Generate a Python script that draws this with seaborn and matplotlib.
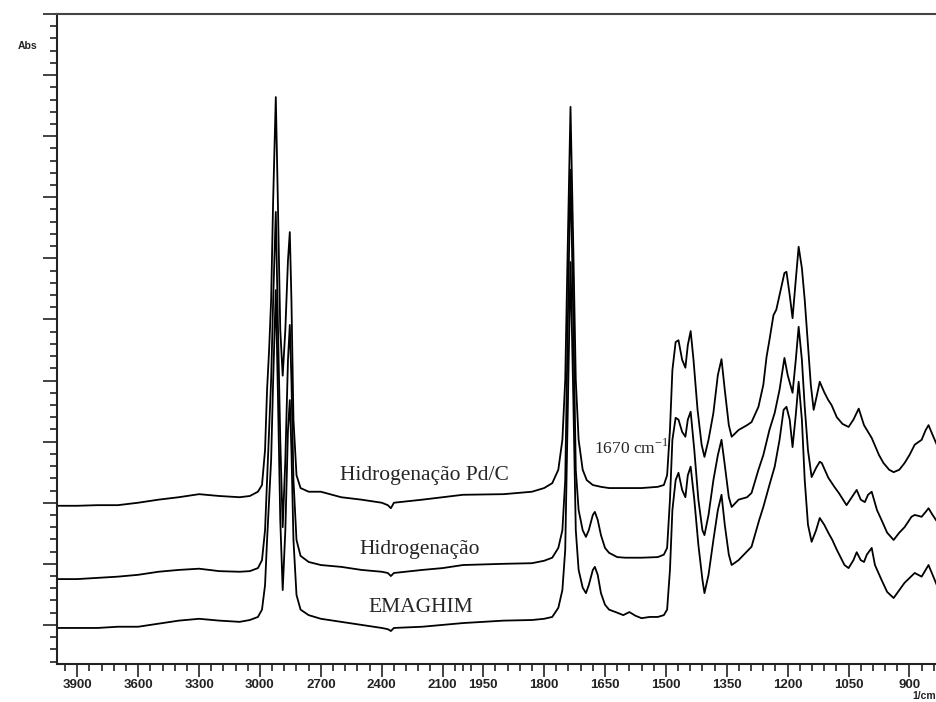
import numpy as np
import pandas as pd
import matplotlib
matplotlib.use("Agg")
import matplotlib.pyplot as plt
import seaborn as sns

sns.set_theme(style="white")
plt.rcParams['font.family'] = ['Liberation Sans', 'DejaVu Sans']
plt.rcParams['mathtext.fontset'] = 'custom'
plt.rcParams['mathtext.rm'] = 'Liberation Serif'

# ---------------- data (wavenumber in cm-1, absorbance in arbitrary units) ----------------
wn_pdc = [4000, 3900, 3800, 3700, 3600, 3500, 3400, 3300, 3200, 3100, 3050, 3010, 2990, 2975, 2965,
          2955, 2945, 2935, 2922, 2912, 2900, 2888, 2875, 2862, 2853, 2845, 2835, 2820, 2800, 2760,
          2700, 2600, 2500, 2400, 2370, 2355, 2340, 2200, 2100, 2000, 1900, 1830, 1800, 1780, 1765,
          1755, 1748, 1742, 1735, 1728, 1722, 1715, 1705, 1695, 1680, 1660, 1640, 1600, 1560, 1520,
          1505, 1497, 1490, 1484, 1476, 1469, 1460, 1452, 1446, 1439, 1432, 1422, 1412, 1405, 1395,
          1383, 1372, 1363, 1355, 1345, 1338, 1321, 1300, 1289, 1272, 1260, 1252, 1245, 1235, 1228,
          1220, 1208, 1203, 1195, 1188, 1180, 1173, 1165, 1158, 1150, 1143, 1136, 1128, 1121, 1110,
          1100, 1092, 1079, 1065, 1050, 1038, 1025, 1012, 993, 975, 964, 950, 939, 925, 912,
          900, 887, 870, 860, 853, 843, 830]
ab_pdc = [1.95, 1.95, 1.96, 1.96, 2.00, 2.05, 2.09, 2.14, 2.11, 2.09, 2.11, 2.18, 2.29, 2.86, 3.85,
          4.50, 5.32, 6.96, 8.64, 6.96, 4.83, 4.08, 4.83, 5.97, 6.43, 5.32, 3.36, 2.45, 2.24, 2.18,
          2.18, 2.09, 2.05, 2.00, 1.96, 1.91, 2.00, 2.05, 2.09, 2.13, 2.14, 2.18, 2.24, 2.32, 2.54,
          3.03, 4.01, 6.14, 8.48, 6.14, 4.01, 3.03, 2.54, 2.37, 2.29, 2.26, 2.24, 2.24, 2.24, 2.26,
          2.29, 2.45, 3.19, 4.17, 4.63, 4.66, 4.34, 4.21, 4.58, 4.81, 4.34, 3.52, 2.95, 2.75, 3.03,
          3.47, 4.09, 4.35, 3.85, 3.27, 3.08, 3.19, 3.27, 3.32, 3.57, 3.93, 4.39, 4.66, 5.07, 5.16,
          5.40, 5.76, 5.78, 5.40, 5.02, 5.65, 6.19, 5.84, 5.32, 4.58, 3.93, 3.52, 3.76, 3.98, 3.81,
          3.68, 3.60, 3.40, 3.29, 3.24, 3.36, 3.54, 3.27, 3.06, 2.78, 2.65, 2.54, 2.50, 2.54, 2.65,
          2.78, 2.95, 3.03, 3.19, 3.27, 3.11, 2.91]

wn_hid = [4000, 3900, 3800, 3700, 3600, 3500, 3400, 3300, 3200, 3100, 3050, 3010, 2990, 2975, 2965,
          2955, 2945, 2935, 2922, 2912, 2900, 2888, 2875, 2862, 2853, 2845, 2835, 2820, 2800, 2760,
          2700, 2600, 2500, 2400, 2370, 2355, 2340, 2200, 2100, 2000, 1900, 1830, 1800, 1780, 1765,
          1755, 1748, 1742, 1735, 1728, 1722, 1715, 1705, 1697, 1690, 1680, 1675, 1668, 1660, 1650,
          1640, 1620, 1600, 1560, 1520, 1505, 1497, 1490, 1484, 1476, 1469, 1460, 1452, 1446, 1439,
          1430, 1420, 1410, 1405, 1395, 1383, 1372, 1363, 1355, 1345, 1338, 1321, 1300, 1289, 1272,
          1260, 1245, 1232, 1220, 1208, 1200, 1188, 1180, 1173, 1165, 1158, 1150, 1141, 1130, 1121,
          1116, 1100, 1085, 1074, 1055, 1042, 1030, 1020, 1010, 1002, 993, 980, 969, 955, 939,
          925, 912, 895, 887, 870, 860, 853, 843, 830]
ab_hid = [0.75, 0.75, 0.77, 0.79, 0.82, 0.87, 0.90, 0.92, 0.88, 0.87, 0.88, 0.93, 1.06, 1.55, 2.37,
          3.19, 4.01, 5.32, 6.76, 4.99, 3.03, 1.60, 2.70, 4.34, 4.91, 4.01, 2.37, 1.39, 1.13, 1.03,
          0.98, 0.95, 0.90, 0.87, 0.85, 0.80, 0.85, 0.90, 0.93, 0.98, 1.00, 1.01, 1.05, 1.10, 1.26,
          1.55, 2.37, 4.83, 7.45, 4.99, 2.54, 1.88, 1.55, 1.44, 1.55, 1.80, 1.85, 1.72, 1.47, 1.26,
          1.18, 1.11, 1.10, 1.10, 1.11, 1.15, 1.26, 2.05, 3.03, 3.39, 3.36, 3.16, 3.08, 3.36, 3.49,
          2.86, 2.05, 1.55, 1.47, 1.80, 2.37, 2.78, 3.03, 2.62, 2.09, 1.93, 2.05, 2.09, 2.16, 2.54,
          2.78, 3.19, 3.47, 3.85, 4.37, 4.09, 3.80, 4.34, 4.88, 4.34, 3.57, 2.86, 2.42, 2.57, 2.67,
          2.65, 2.41, 2.26, 2.16, 1.96, 2.09, 2.21, 2.05, 2.01, 2.13, 2.18, 1.88, 1.72, 1.51, 1.39,
          1.51, 1.60, 1.77, 1.80, 1.77, 1.85, 1.91, 1.80, 1.67]

wn_ema = [4000, 3900, 3800, 3700, 3600, 3500, 3400, 3300, 3200, 3100, 3050, 3010, 2990, 2975, 2965,
          2955, 2945, 2935, 2922, 2912, 2900, 2888, 2875, 2862, 2853, 2845, 2835, 2820, 2800, 2760,
          2700, 2600, 2500, 2400, 2370, 2355, 2340, 2200, 2100, 2000, 1900, 1830, 1800, 1780, 1765,
          1755, 1748, 1742, 1735, 1728, 1722, 1715, 1705, 1697, 1690, 1680, 1675, 1668, 1660, 1650,
          1640, 1620, 1605, 1590, 1575, 1560, 1540, 1520, 1505, 1497, 1490, 1484, 1476, 1469, 1460,
          1452, 1446, 1439, 1430, 1420, 1410, 1405, 1395, 1383, 1372, 1363, 1355, 1345, 1338, 1321,
          1289, 1270, 1260, 1245, 1232, 1220, 1210, 1203, 1195, 1188, 1180, 1173, 1165, 1158, 1150,
          1141, 1130, 1121, 1110, 1100, 1090, 1079, 1060, 1050, 1038, 1030, 1020, 1012, 1005, 993,
          985, 969, 955, 939, 925, 912, 887, 870, 860, 853, 843, 830]
ab_ema = [-0.05, -0.05, -0.05, -0.03, -0.03, 0.02, 0.07, 0.10, 0.07, 0.05, 0.08, 0.13, 0.25, 0.65, 1.39,
          2.05, 2.70, 4.01, 5.48, 3.85, 1.72, 0.57, 1.55, 3.19, 3.68, 2.86, 1.39, 0.49, 0.25, 0.16,
          0.10, 0.05, 0.00, -0.05, -0.07, -0.10, -0.05, -0.03, 0.00, 0.03, 0.07, 0.08, 0.10, 0.13, 0.28,
          0.57, 1.23, 3.36, 5.94, 3.68, 1.55, 0.90, 0.61, 0.52, 0.65, 0.90, 0.95, 0.82, 0.52, 0.33,
          0.25, 0.20, 0.16, 0.21, 0.15, 0.11, 0.13, 0.13, 0.16, 0.25, 0.90, 1.88, 2.37, 2.49, 2.21,
          2.09, 2.45, 2.59, 2.05, 1.31, 0.74, 0.52, 0.82, 1.39, 1.88, 2.13, 1.64, 1.15, 0.98, 1.06,
          1.28, 1.72, 1.93, 2.29, 2.59, 3.03, 3.52, 3.57, 3.36, 2.91, 3.44, 3.98, 3.36, 2.37, 1.64,
          1.36, 1.55, 1.75, 1.64, 1.51, 1.39, 1.23, 0.98, 0.93, 1.06, 1.19, 1.06, 1.03, 1.15, 1.26,
          0.98, 0.74, 0.54, 0.44, 0.57, 0.69, 0.85, 0.79, 0.90, 0.98, 0.82, 0.61]

sample_names = ["Hidrogenação Pd/C", "Hidrogenação", "EMAGHIM"]
x_major = [3900, 3600, 3300, 3000, 2700, 2400, 2100, 1950, 1800, 1650, 1500, 1350, 1200, 1050, 900]

# ---------------- figure ----------------
fig = plt.figure(figsize=(9.36, 7.02), dpi=100)
ax = fig.add_axes([57/936, 38/702, 1 - 57/936 + 0.002, 650/702])

for wn, ab in [(wn_pdc, ab_pdc), (wn_hid, ab_hid), (wn_ema, ab_ema)]:
    sns.lineplot(x=wn, y=ab, ax=ax, color="black", linewidth=1.3, sort=False, estimator=None)

# wavenumber axis with 2x expansion below 2000 cm-1
def fwd(w):
    w = np.asarray(w, dtype=float)
    return np.where(w >= 2000, w, 2 * w - 2000)

def inv(u):
    u = np.asarray(u, dtype=float)
    return np.where(u >= 2000, u, (u + 2000) / 2)

ax.set_xscale('function', functions=(fwd, inv))
ax.set_xlim(4000, 830)
ax.set_ylim(-0.64, 10.0)

x_minor = [v for v in range(3960, 2000, -60) if v not in x_major] + [2000] + \
          [v for v in range(1980, 820, -30) if v not in x_major]
ax.set_xticks(x_major)
ax.set_xticklabels([str(v) for v in x_major])
ax.set_xticks(x_minor, minor=True)
ax.set_yticks(np.arange(0, 11, 1))
ax.set_yticks(np.arange(-0.6, 10.0, 0.2), minor=True)
ax.set_yticklabels([])

ax.tick_params(which='both', bottom=True, left=True, top=False, right=False)
ax.tick_params(axis='x', which='major', direction='out', length=9, width=1.2, color='#222',
               labelsize=9.5, pad=2, labelcolor='#222')
ax.tick_params(axis='x', which='minor', direction='out', length=5, width=1.2, color='#222')
ax.tick_params(axis='y', which='major', direction='out', length=10, width=1.2, color='#222')
ax.tick_params(axis='y', which='minor', direction='out', length=5, width=1.2, color='#222')
for lab in ax.get_xticklabels():
    lab.set_fontweight('bold')

ax.spines['right'].set_visible(False)
for s in ['left', 'bottom', 'top']:
    ax.spines[s].set_color('#222')
    ax.spines[s].set_linewidth(1.5)
ax.spines['top'].set_color('#444')
ax.set_xlabel('')
ax.set_ylabel('')

# annotations
serif = ['Liberation Serif', 'DejaVu Serif']
ax.text(2189, 2.45, sample_names[0], ha='center', va='center', fontsize=15.5, family=serif)
ax.text(2214, 1.23, sample_names[1], ha='center', va='center', fontsize=15.5, family=serif)
ax.text(2209, 0.29, sample_names[2], ha='center', va='center', fontsize=15.5, family=serif)
ax.text(1676, 2.90, '1670 cm$^{\\mathregular{-1}}$', ha='left', va='center', fontsize=12.5, family=serif)

fig.text(28/936, 1 - 46/702, 'Abs', ha='center', va='center', fontsize=7.5, fontweight='bold', color='#222')
fig.text(912/936, 0.002, '1/cm', ha='left', va='bottom', fontsize=7.5, fontweight='bold', color='#222')

fig.savefig('out.png', dpi=100)
